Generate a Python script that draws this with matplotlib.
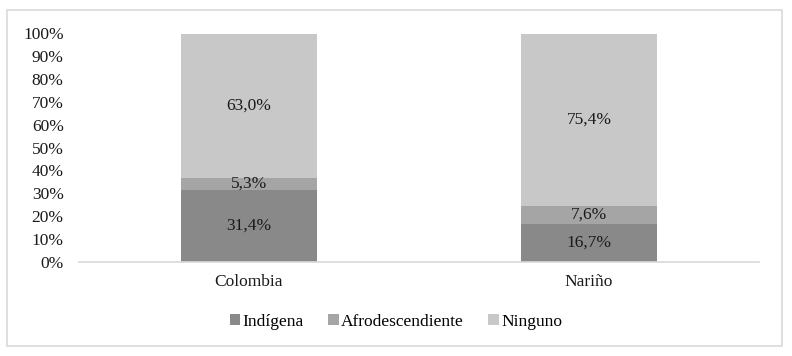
import matplotlib
matplotlib.use("Agg")
import matplotlib.pyplot as plt
from matplotlib.patches import Rectangle

plt.rcParams["font.family"] = ["Liberation Serif", "DejaVu Serif"]

regions = ["Colombia", "Nariño"]
series_names = ["Indígena", "Afrodescendiente", "Ninguno"]
indigena = [31.4, 16.7]
afro = [5.3, 7.6]
ninguno = [63.0, 75.4]
COLORS = ["#898989", "#a5a5a5", "#c8c8c8"]
FS = 12.5
TXT = "#1a1a1a"

fig = plt.figure(figsize=(7.92, 3.56), dpi=100)
# light grey frame round the whole chart
fig.patches.append(Rectangle((7 / 792, 10 / 356), 775 / 792, 336 / 356,
                             transform=fig.transFigure, fill=False,
                             edgecolor="#d9d9d9", linewidth=1.2))

ax = fig.add_axes([79 / 792, (356 - 262) / 356, 680 / 792, 229 / 356])

x = list(range(len(regions)))
bottom = [0.0] * len(regions)
for name, vals, col in zip(series_names, [indigena, afro, ninguno], COLORS):
    ax.bar(x, vals, width=0.4, bottom=bottom, color=col, label=name)
    for xi, v, b in zip(x, vals, bottom):
        ax.text(xi, b + v / 2, ("%.1f%%" % v).replace(".", ","),
                ha="center", va="center", fontsize=FS, color=TXT)
    bottom = [b + v for b, v in zip(bottom, vals)]

ax.set_xlim(-0.5, len(regions) - 0.5)
ax.set_ylim(0, 100)
ax.set_yticks(range(0, 101, 10))
ax.set_yticklabels([str(t) + "%" for t in range(0, 101, 10)])
ax.set_xticks(x)
ax.set_xticklabels(regions)
ax.tick_params(axis="both", length=0, labelsize=FS, colors=TXT)
ax.tick_params(axis="y", pad=11)
ax.tick_params(axis="x", pad=9)
for s in ["top", "right", "left"]:
    ax.spines[s].set_visible(False)
ax.spines["bottom"].set_color("#d9d9d9")
ax.spines["bottom"].set_linewidth(1.2)

fig.legend(loc="center", bbox_to_anchor=(0.5, (356 - 322) / 356), ncol=3,
           frameon=False, fontsize=FS, handlelength=0.6, handleheight=0.6,
           handletextpad=0.15, columnspacing=1.4)

fig.savefig("out.png", dpi=100)
